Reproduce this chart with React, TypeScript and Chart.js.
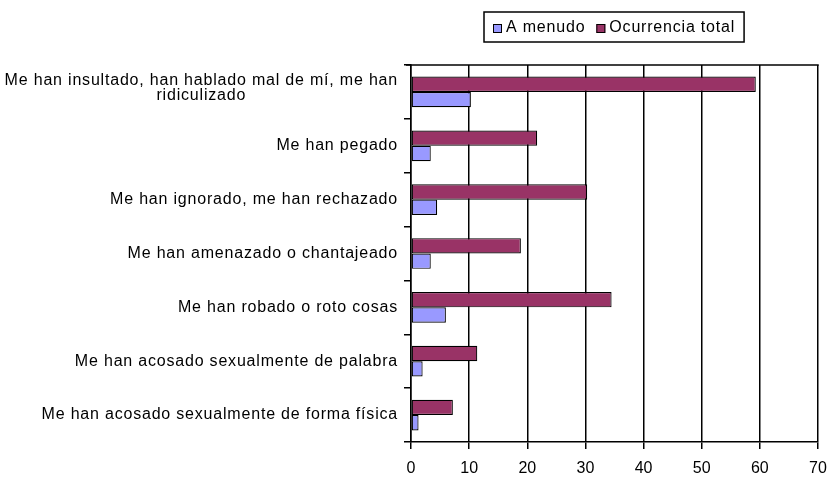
import React, { useEffect, useRef } from "react";
import { Chart, registerables } from "chart.js";

Chart.register(...registerables);

const categories: string[][] = [
  ["Me han insultado, han hablado mal de mí, me han", "ridiculizado"],
  ["Me han pegado"],
  ["Me han ignorado, me han rechazado"],
  ["Me han amenazado o chantajeado"],
  ["Me han robado o roto cosas"],
  ["Me han acosado sexualmente de palabra"],
  ["Me han acosado sexualmente de forma física"],
];
const aMenudo = [10.3, 3.4, 4.5, 3.4, 6.0, 2.0, 1.3];
const ocurrenciaTotal = [59.3, 21.7, 30.3, 18.9, 34.5, 11.4, 7.2];
const seriesNames = ["A menudo", "Ocurrencia total"];
const seriesColors = ["#9999FF", "#993366"];
const xMin = 0;
const xMax = 70;
const xStep = 10;

const FONT = "Liberation Sans, Arial, sans-serif";
const LABEL_SIZE = 16;
const SPACING = "0.8px";

const customPlugin = {
  id: "customDecor",
  afterDraw(chart: any) {
    const ctx = chart.ctx;
    const area = chart.chartArea;
    const yScale = chart.scales.y;
    ctx.save();
    // top border of the plot area
    ctx.strokeStyle = "#000";
    ctx.lineWidth = 1.5;
    ctx.beginPath();
    ctx.moveTo(area.left - 5, Math.round(area.top));
    ctx.lineTo(area.right + 0.75, Math.round(area.top));
    ctx.stroke();

    // category labels
    ctx.fillStyle = "#000";
    ctx.font = `${LABEL_SIZE}px ${FONT}`;
    (ctx as any).letterSpacing = SPACING;
    ctx.textBaseline = "middle";
    const rightX = area.left - 13;
    const lh = 14.5;
    categories.forEach((lines, i) => {
      const cy = yScale.getPixelForTick(i);
      if (lines.length === 1) {
        ctx.textAlign = "right";
        ctx.fillText(lines[0], rightX, cy);
      } else {
        const w = ctx.measureText(lines[0]).width;
        const cx = rightX - w / 2;
        ctx.textAlign = "center";
        const startY = cy - 4 - ((lines.length - 1) * lh) / 2;
        lines.forEach((ln, j) => ctx.fillText(ln, cx, startY + j * lh));
      }
    });

    // legend
    const sq = 9;
    const w1 = ctx.measureText(seriesNames[0]).width;
    const w2 = ctx.measureText(seriesNames[1]).width;
    const pad = 9;
    const totalW = pad + sq + 4 + w1 + 11 + sq + 4 + w2 + pad;
    const cxL = (area.left + area.right) / 2;
    const left = Math.round(cxL - totalW / 2);
    const top = 12;
    const h = 30;
    ctx.strokeStyle = "#000";
    ctx.lineWidth = 1.5;
    ctx.strokeRect(left, top, totalW, h);
    ctx.lineWidth = 1;
    const midY = top + h / 2 + 1;
    let x = left + pad;
    [w1, w2].forEach((w, i) => {
      ctx.fillStyle = seriesColors[i];
      ctx.fillRect(x, Math.round(midY - sq / 2), sq, sq);
      ctx.strokeStyle = "#000";
      ctx.strokeRect(x + 0.5, Math.round(midY - sq / 2) + 0.5, sq - 1, sq - 1);
      x += sq + 4;
      ctx.fillStyle = "#000";
      ctx.textAlign = "left";
      ctx.fillText(seriesNames[i], x, midY);
      x += w + 11;
    });
    ctx.restore();
  },
};

export default function App() {
  const ref = useRef<HTMLCanvasElement | null>(null);
  useEffect(() => {
    if (!ref.current) return;
    const chart = new Chart(ref.current, {
      type: "bar",
      data: {
        labels: categories.map((c) => c.join(" ")),
        datasets: [
          {
            label: seriesNames[1],
            data: ocurrenciaTotal,
            backgroundColor: seriesColors[1],
            borderColor: "#000",
            borderWidth: 1.2,
            borderSkipped: false,
            categoryPercentage: 0.57,
            barPercentage: 1.0,
          },
          {
            label: seriesNames[0],
            data: aMenudo,
            backgroundColor: seriesColors[0],
            borderColor: "#000",
            borderWidth: 1.2,
            borderSkipped: false,
            categoryPercentage: 0.57,
            barPercentage: 1.0,
          },
        ],
      },
      options: {
        indexAxis: "y",
        animation: false,
        responsive: false,
        maintainAspectRatio: false,
        layout: { padding: { top: 65, right: 12, left: 0, bottom: 0 } },
        plugins: {
          legend: { display: false },
          tooltip: { enabled: false },
        },
        scales: {
          x: {
            min: xMin,
            max: xMax,
            ticks: {
              stepSize: xStep,
              color: "#000",
              font: { family: FONT, size: 16 },
              padding: 10,
            },
            grid: { color: "#000", lineWidth: 1.5, tickLength: 7 },
            border: { color: "#000", width: 1.5 },
            afterFit: (s: any) => {
              s.height = 36;
              s.paddingRight = 12;
              s.paddingLeft = 0;
            },
          },
          y: {
            offset: true,
            ticks: { display: false },
            grid: {
              drawOnChartArea: false,
              drawTicks: true,
              tickLength: 7,
              color: "#000",
              lineWidth: 1.5,
              offset: true,
            },
            border: { color: "#000", width: 1.5 },
            afterFit: (s: any) => {
              s.width = 411;
            },
          },
        },
      },
      plugins: [customPlugin],
    } as any);
    return () => chart.destroy();
  }, []);
  return (
    <div style={{ position: "absolute", left: 0, top: 0, width: 830, height: 478, background: "#fff" }}>
      <canvas ref={ref} width={830} height={478} style={{ width: 830, height: 478, display: "block" }} />
    </div>
  );
}
